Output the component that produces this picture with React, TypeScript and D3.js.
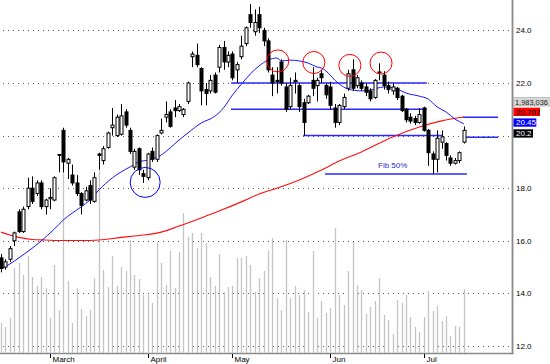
import React from 'react';
import * as d3 from 'd3';

const W = 550;
const H = 364;

// OHLC per trading day (index 0 = mid February, last = mid July)
const opens = [
  15.35, 15.0, 15.3, 16.0, 17.1, 16.35, 17.3, 18.0, 17.8, 18.2,
  17.3, 17.6, 17.55, 19.28, 20.2, 18.95, 18.5, 18.2, 17.8, 17.55,
  18.1, 17.5, 19.3, 19.05, 19.55, 20.3, 20.0, 20.05, 20.9, 20.2,
  18.8, 19.5, 18.55, 18.4, 19.4, 19.1, 20.1, 20.7, 20.9, 21.05,
  20.95, 20.8, 21.3, 23.0, 23.05, 22.55, 21.75, 21.7, 22.3, 22.6,
  23.35, 22.8, 23.1, 22.5, 23.0, 23.5, 24.6, 23.95, 24.6, 24.0,
  23.6, 22.3, 22.1, 22.8, 21.85, 21.1, 22.05, 21.9, 21.25, 21.25,
  22.1, 21.9, 22.35, 21.9, 21.85, 21.05, 20.5, 21.1, 21.8, 22.5,
  21.9, 22.0, 21.85, 21.7, 21.45, 22.4, 22.3, 21.9, 21.7, 21.8,
  21.5, 21.0, 20.7, 20.65, 20.5, 21.05, 20.2, 19.3, 19.1, 19.75,
  19.7, 19.15, 18.95, 19.05, 19.75,
];
const highs = [
  15.5, 15.3, 15.8, 16.35, 17.2, 17.3, 18.4, 18.45, 18.3, 18.3,
  17.6, 18.0, 18.45, 19.3, 20.3, 19.15, 18.9, 18.5, 17.85, 18.05,
  18.3, 18.6, 19.35, 19.6, 20.15, 21.05, 20.8, 21.2, 21.0, 20.3,
  19.5, 19.55, 18.7, 19.35, 19.55, 20.05, 20.65, 21.3, 21.0, 21.35,
  21.2, 21.05, 22.05, 23.2, 23.5, 22.6, 22.0, 22.3, 22.4, 23.45,
  23.6, 23.2, 23.2, 22.8, 23.8, 24.15, 25.0, 24.8, 24.9, 24.1,
  23.7, 22.6, 22.6, 22.9, 22.0, 22.2, 22.4, 22.0, 21.4, 21.55,
  22.6, 22.2, 22.5, 22.0, 22.05, 21.2, 21.2, 21.6, 22.5, 22.9,
  22.3, 22.1, 22.0, 21.8, 22.15, 22.75, 22.45, 22.05, 22.0, 21.85,
  21.55, 21.05, 20.85, 20.75, 21.05, 21.1, 20.25, 19.4, 20.2, 20.2,
  19.75, 19.25, 19.15, 19.4, 20.35,
];
const lows = [
  14.8, 14.9, 15.2, 15.8, 16.3, 16.3, 17.2, 17.4, 17.7, 17.2,
  17.0, 17.2, 17.5, 18.6, 18.6, 18.35, 18.1, 17.7, 17.0, 17.5,
  17.4, 17.45, 18.7, 18.9, 19.5, 20.0, 19.95, 20.0, 20.3, 19.3,
  18.7, 18.5, 18.2, 18.3, 19.0, 19.0, 20.05, 20.5, 20.3, 20.7,
  20.9, 20.7, 21.2, 22.6, 22.6, 21.15, 21.15, 21.6, 21.6, 22.4,
  22.5, 22.6, 22.1, 22.0, 22.9, 23.4, 24.1, 23.8, 23.9, 23.4,
  22.4, 21.5, 21.6, 21.9, 20.9, 21.0, 21.6, 20.9, 20.0, 21.2,
  21.5, 21.3, 22.0, 21.4, 21.0, 20.3, 20.4, 21.0, 21.7, 21.7,
  21.8, 21.7, 21.5, 21.3, 21.4, 22.1, 21.75, 21.6, 21.55, 21.35,
  20.9, 20.5, 20.45, 20.4, 20.45, 20.15, 18.85, 18.55, 18.6, 19.5,
  19.05, 18.85, 18.9, 18.95, 19.7,
];
const closes = [
  14.95, 15.2, 15.7, 16.3, 16.35, 17.2, 18.0, 17.5, 18.2, 17.3,
  17.55, 17.65, 18.4, 19.25, 19.0, 19.1, 18.2, 17.8, 17.35, 17.9,
  17.55, 18.4, 19.25, 19.5, 20.1, 20.4, 20.7, 20.75, 20.4, 19.4,
  19.4, 18.7, 18.45, 19.3, 19.1, 20.0, 20.2, 20.8, 20.35, 20.95,
  21.1, 21.0, 22.0, 23.1, 22.7, 21.7, 21.6, 22.1, 21.65, 23.35,
  22.8, 23.05, 22.2, 22.7, 23.4, 24.1, 24.3, 24.3, 24.1, 23.6,
  22.5, 22.0, 22.05, 22.0, 21.0, 21.9, 22.1, 21.1, 20.5, 21.5,
  21.8, 22.1, 22.2, 21.55, 21.15, 20.5, 21.15, 21.45, 22.35, 21.8,
  22.2, 21.8, 21.65, 21.4, 22.1, 22.42, 21.9, 21.75, 21.85, 21.45,
  20.95, 20.6, 20.55, 20.5, 20.8, 20.2, 19.35, 19.1, 19.9, 19.95,
  19.25, 18.95, 19.05, 19.35, 20.2,
];
// volume in thousands of shares
const volumes = [
  925, 800, 1080, 2637, 2792, 2419, 3010, 2357, 2076, 2357,
  2014, 1080, 2730, 1329, 5625, 2232, 925, 2014, 1360, 1142,
  1329, 2325, 5687, 2574, 2045, 3010, 2076, 2668, 2543, 3508,
  2419, 2294, 1796, 1796, 1547, 3446, 2792, 2108, 3166, 2014,
  3135, 4349, 3602, 3726, 3259, 3726, 3415, 2357, 2076, 3073,
  1890, 2045, 2076, 2948, 2948, 3010, 2730, 1890, 2325, 2543,
  3197, 3571, 1703, 1329, 3508, 1703, 2076, 1796, 1952, 1267,
  3166, 1080, 1609, 1236, 1392, 3882, 1796, 1485, 2543, 3446,
  2108, 1952, 1205, 1423, 1609, 2325, 1174, 1018, 582, 1641,
  1547, 1796, 1111, 800, 644, 1111, 1921, 1298, 1454, 987,
  1142, 520, 831, 800, 1983.036,
];

// moving averages read at sample days
const blueMaIdx = [0, 2, 4, 9, 12, 14, 18, 20, 22, 25, 27, 29, 31, 33, 36, 38, 40, 42, 45, 48, 50, 52, 54, 56, 58, 60, 62, 63, 65, 67, 69, 71, 72, 74, 75, 77, 78, 81, 83, 86, 89, 91, 94, 96, 98, 100, 102, 104];
const blueMaVal = [14.93, 15.12, 15.35, 15.99, 16.45, 16.79, 17.29, 17.55, 17.93, 18.39, 18.62, 18.81, 19.0, 19.07, 19.26, 19.53, 19.83, 20.1, 20.48, 20.73, 21.05, 21.54, 21.95, 22.34, 22.65, 22.87, 22.95, 22.84, 22.87, 22.84, 22.76, 22.61, 22.57, 22.3, 22.11, 21.85, 21.77, 21.7, 21.73, 21.85, 21.77, 21.62, 21.5, 21.39, 21.09, 20.9, 20.63, 20.45];
const redMaIdx = [0, 2, 4, 7, 10, 14, 18, 22, 27, 31, 36, 40, 45, 49, 54, 58, 62, 67, 72, 76, 81, 88, 94, 99, 104];
const redMaVal = [16.33, 16.22, 16.13, 16.05, 16.03, 16.01, 16.01, 16.03, 16.13, 16.2, 16.33, 16.56, 16.87, 17.13, 17.48, 17.78, 18.0, 18.31, 18.69, 19.03, 19.38, 19.95, 20.33, 20.56, 20.707];

// drawn horizontal levels (price, from day, to day)
const levelPrice = [22.0, 21.0, 20.0, 18.54, 20.7, 19.94];
const levelFrom = [51.7, 51.7, 67.9, 72.8, 103.8, 104.5];
const levelTo = [95.7, 95.7, 99.3, 104.7, 111.7, 111.7];

// annotation circles (day, price)
const redCircleIdx = [62.2, 70.3, 78.4, 85.4];
const redCirclePrice = [22.84, 22.78, 22.67, 22.76];
const blueCircleIdx = [32.4];
const blueCirclePrice = [18.22];

const monthIdx = [11, 33, 52, 74, 95];
const monthLabels = ['March', 'April', 'May', 'Jun', 'Jul'];
const gridValues = [12, 14, 16, 18, 20, 22, 24];
const fibLabel = 'Fib 50%';

const FONT = "'Liberation Sans', Arial, sans-serif";

export default function App() {
  const N = closes.length;
  const x = d3.scaleLinear().domain([0, N - 1]).range([1, 463.8]);
  const y = d3.scaleLinear().domain([12, 24]).range([346, 30.4]);
  const yv = d3.scaleLinear().domain([0, 10000]).range([352.7, 31.5]);

  const line = d3
    .line<[number, number]>()
    .x((d) => x(d[0]))
    .y((d) => y(d[1]))
    .curve(d3.curveMonotoneX);

  const blueMa = line(blueMaIdx.map((d, i) => [d, blueMaVal[i]] as [number, number])) || '';
  const redMa = line(redMaIdx.map((d, i) => [d, redMaVal[i]] as [number, number])) || '';

  const px = (i: number) => Math.round(x(i)) + 0.5;

  const lastClose = closes[N - 1];
  const lastVol = volumes[N - 1] * 1000;
  const lastBlue = blueMaVal[blueMaVal.length - 1];
  const lastRed = redMaVal[redMaVal.length - 1];

  const boxes = [
    { text: d3.format(',')(Math.round(lastVol)), top: 97.7, w: 40, fill: '#d6d6d6', color: '#222', stroke: '#a0a0a0', fs: 7.4, tx: 515 },
    { text: String(lastRed), top: 107.7, w: 26.5, fill: '#ff0000', color: '#000', stroke: 'none', fs: 8, tx: 516 },
    { text: String(lastBlue), top: 118.4, w: 22.8, fill: '#0000ff', color: '#fff', stroke: 'none', fs: 8, tx: 516 },
    { text: String(lastClose), top: 129.3, w: 19.5, fill: '#000', color: '#fff', stroke: 'none', fs: 8, tx: 516 },
  ];

  return (
    <svg
      width={W}
      height={H}
      style={{ position: 'absolute', left: 0, top: 0, background: '#fff' }}
      fontFamily={FONT}
    >
      <rect x={0} y={0} width={W} height={H} fill="#fff" />
      {/* grid */}
      {gridValues.map((v) => (
        <line
          key={'g' + v}
          x1={3}
          x2={511}
          y1={Math.round(y(v)) + 0.5}
          y2={Math.round(y(v)) + 0.5}
          stroke="#555"
          strokeDasharray="1 4"
        />
      ))}
      {/* volume */}
      {volumes.map((v, i) => (
        <line key={'v' + i} x1={px(i)} x2={px(i)} y1={yv(0)} y2={yv(v)} stroke="#c4c4c4" strokeWidth={1.3} />
      ))}
      {/* levels */}
      {levelPrice.map((p, i) => (
        <line
          key={'l' + i}
          x1={x(levelFrom[i])}
          x2={x(levelTo[i])}
          y1={y(p)}
          y2={y(p)}
          stroke="#2a2aff"
          strokeWidth={1.5}
        />
      ))}
      <text x={378} y={168} fontSize={8} fill="#2a2ad8">{fibLabel}</text>
      {/* moving averages */}
      <path d={redMa} fill="none" stroke="#ff1010" strokeWidth={1.1} />
      <path d={blueMa} fill="none" stroke="#1515ff" strokeWidth={1} />
      {/* candles */}
      {closes.map((c, i) => {
        const o = opens[i];
        const cx = px(i);
        const top = y(Math.max(o, c));
        const bot = y(Math.min(o, c));
        const up = c >= o;
        return (
          <g key={'c' + i}>
            <line x1={cx} x2={cx} y1={y(highs[i])} y2={y(lows[i])} stroke="#000" strokeWidth={1} />
            <rect
              x={cx - 1.5}
              y={top}
              width={3}
              height={Math.max(bot - top, 0.8)}
              fill={up ? '#fff' : '#000'}
              stroke="#000"
              strokeWidth={1}
            />
          </g>
        );
      })}
      {/* circles */}
      {redCircleIdx.map((d, i) => (
        <circle key={'rc' + i} cx={x(d)} cy={y(redCirclePrice[i])} r={11} fill="none" stroke="#ff0000" strokeWidth={1} />
      ))}
      {blueCircleIdx.map((d, i) => (
        <circle key={'bc' + i} cx={x(d)} cy={y(blueCirclePrice[i])} r={15} fill="none" stroke="#0000ff" strokeWidth={1} />
      ))}
      {/* axes */}
      <line x1={0} x2={513.5} y1={353.5} y2={353.5} stroke="#8a8a8a" strokeWidth={1.6} />
      <line x1={512.5} x2={512.5} y1={0} y2={354} stroke="#8a8a8a" strokeWidth={1.8} />
      {monthIdx.map((d, i) => (
        <g key={'m' + i}>
          <line x1={px(d)} x2={px(d)} y1={354} y2={358} stroke="#000" />
          <text x={px(d) + 2} y={361.8} fontSize={8} fill="#000">
            {monthLabels[i]}
          </text>
        </g>
      ))}
      {gridValues
        .filter((v) => Math.abs(y(v) - (boxes[3].top + 4)) > 6)
        .map((v) => (
          <text key={'t' + v} x={516} y={y(v) + 3} fontSize={8} fill="#000">
            {v.toFixed(1)}
          </text>
        ))}
      {boxes.map((b, i) => (
        <g key={'b' + i}>
          <rect x={513.5} y={b.top} width={b.w} height={8.3} fill={b.fill} stroke={b.stroke} strokeWidth={0.6} />
          <text x={b.tx} y={b.top + 7} fontSize={b.fs} fill={b.color}>
            {b.text}
          </text>
        </g>
      ))}
    </svg>
  );
}
